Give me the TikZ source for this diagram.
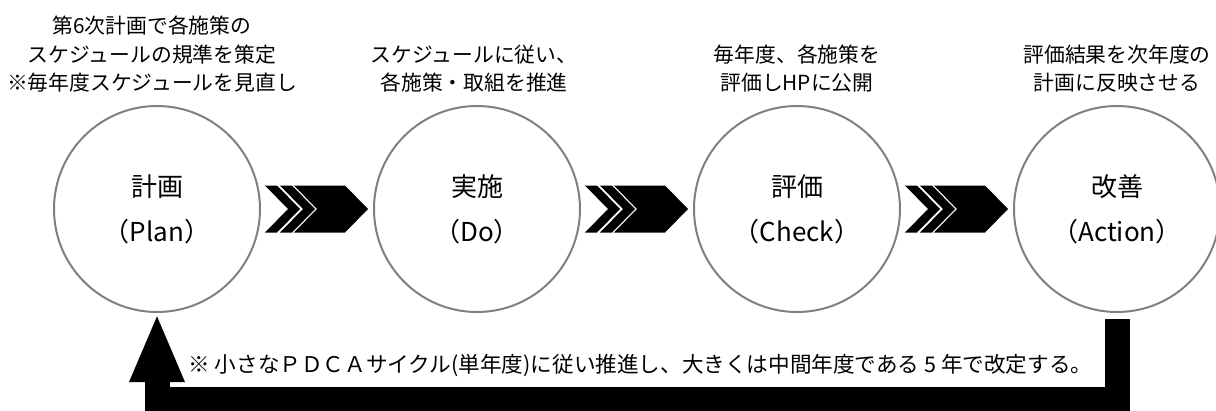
\documentclass[tikz,border=0pt]{standalone}
\usepackage{fontspec}
\setmainfont{Noto Sans CJK JP}
\usetikzlibrary{positioning,arrows.meta}
\tikzset{phase/.style={shape=circle,draw=black!50,line width=2pt,
        minimum size=206pt,inner sep=0pt,align=center,
        font=\fontsize{26}{45}\selectfont},
        memo/.style={align=center,font=\fontsize{20.8}{28.5}\selectfont},
        loopline/.style={line width=25pt,line join=miter,
        -{Triangle[length=69pt,width=50pt]}}}
\newcommand{\chevrons}[1]{%
  %% two thin stripes and a notched block, right of the phase #1
  \begin{scope}[shift={(#1.east)},xshift=4pt]
    \fill (0,-23.5)--(12,-23.5)--(35,0)--(12,23.5)--(0,23.5)--(23,0)--cycle;
    \fill (15,-23.5)--(27,-23.5)--(50,0)--(27,23.5)--(15,23.5)--(38,0)--cycle;
    \fill (29,-23.5)--(80,-23.5)--(103,0)--(80,23.5)--(29,23.5)--(52,0)--cycle;
  \end{scope}}

\begin{document}
\begin{tikzpicture}[x=1pt,y=-1pt]
  \useasboundingbox (0,0) rectangle (1216,410);
  %% the four phases
  \node[phase] (plan) at (157,209) {計画\\（Plan）};
  \node[phase,right=112pt of plan] (do) {実施\\（Do）};
  \node[phase,right=112pt of do] (check) {評価\\（Check）};
  \node[phase,right=112pt of check] (act) {改善\\（Action）};
  %% texts above the phases
  \node[memo,above=9pt of plan,xshift=-5pt] (planmemo)
       {第6次計画で各施策の\\スケジュールの規準を策定\\※毎年度スケジュールを見直し};
  \node[memo,above=9pt of do,xshift=-3pt] (domemo)
       {スケジュールに従い、\\各施策・取組を推進};
  \node[memo,above=9pt of check] (checkmemo)
       {毎年度、各施策を\\評価しHPに公開};
  \node[memo,above=9pt of act] (actmemo)
       {評価結果を次年度の\\計画に反映させる};
  %% arrows between the phases
  \chevrons{plan}
  \chevrons{do}
  \chevrons{check}
  %% back to the plan
  \coordinate (start) at ([yshift=-6pt]act.south);
  \coordinate (bend) at (1117.5,399.5);
  \draw[loopline] (start -| bend) -- (bend) -- (bend -| plan) -- (plan.south);
  \node[right,font=\fontsize{21.6}{24}\selectfont] (note) at (185,365)
       {※ 小さなＰＤＣＡサイクル(単年度)に従い推進し、大きくは中間年度である 5 年で改定する。};
\end{tikzpicture}
\end{document}
